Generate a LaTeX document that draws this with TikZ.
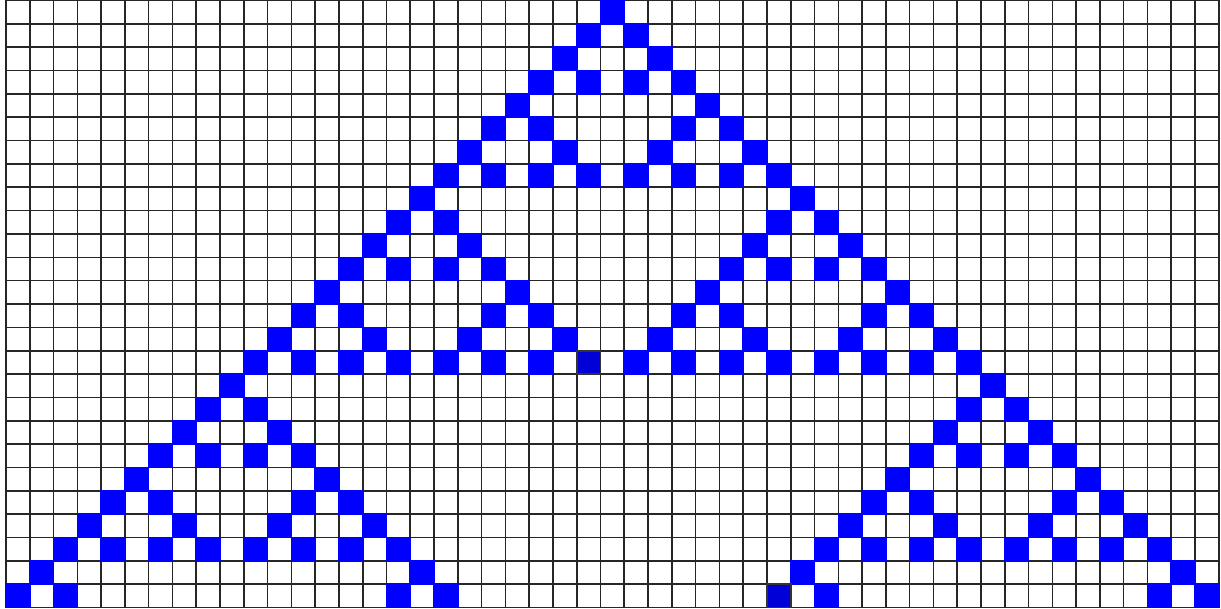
\documentclass[tikz,border=0pt]{standalone}
\begin{document}
\begin{tikzpicture}[x=0.5pt,y=-0.5pt,
  gridline/.style={draw=black!85,line width=0.8pt},
  livecell/.style={fill={rgb,255:red,0;green,0;blue,255}},
  markcell/.style={fill={rgb,255:red,0;green,0;blue,215},draw=black!80,line width=0.8pt}]
\useasboundingbox (0,0) rectangle (1221,609);
\fill[white] (0,0) rectangle (1221,609);
\def\cw{23.78}
\def\rh{23.35}
% grid
\foreach \c in {0,...,51}{
  \draw[gridline] ({6+\c*\cw},0.5) -- ({6+\c*\cw},607.5);
}
\foreach \r in {0,...,26}{
  \draw[gridline] (6,{0.5+\r*\rh}) -- (1218.8,{0.5+\r*\rh});
}
% live cells (rule 90 from a single seed)
\foreach \n/\js in {
  0/{0},
  1/{-1,1},
  2/{-2,2},
  3/{-3,-1,1,3},
  4/{-4,4},
  5/{-5,-3,3,5},
  6/{-6,-2,2,6},
  7/{-7,-5,-3,-1,1,3,5,7},
  8/{-8,8},
  9/{-9,-7,7,9},
  10/{-10,-6,6,10},
  11/{-11,-9,-7,-5,5,7,9,11},
  12/{-12,-4,4,12},
  13/{-13,-11,-5,-3,3,5,11,13},
  14/{-14,-10,-6,-2,2,6,10,14},
  15/{-15,-13,-11,-9,-7,-5,-3,1,3,5,7,9,11,13,15},
  16/{-16,16},
  17/{-17,-15,15,17},
  18/{-18,-14,14,18},
  19/{-19,-17,-15,-13,13,15,17,19},
  20/{-20,-12,12,20},
  21/{-21,-19,-13,-11,11,13,19,21},
  22/{-22,-18,-14,-10,10,14,18,22},
  23/{-23,-21,-19,-17,-15,-13,-11,-9,9,11,13,15,17,19,21,23},
  24/{-24,-8,8,24},
  25/{-25,-23,-9,-7,9,23,25}}{
  \foreach \j in \js {
    \fill[livecell] ({6+(25+\j)*\cw-0.8},{0.5+\n*\rh-0.8}) rectangle ({6+(26+\j)*\cw+0.8},{0.5+(\n+1)*\rh+0.8});
  }
}
% two darker marked cells
\filldraw[markcell] ({6+24*\cw},{0.5+15*\rh}) rectangle ({6+25*\cw},{0.5+16*\rh});
\filldraw[markcell] ({6+32*\cw},{0.5+25*\rh}) rectangle ({6+33*\cw},{0.5+26*\rh});
\end{tikzpicture}
\end{document}
